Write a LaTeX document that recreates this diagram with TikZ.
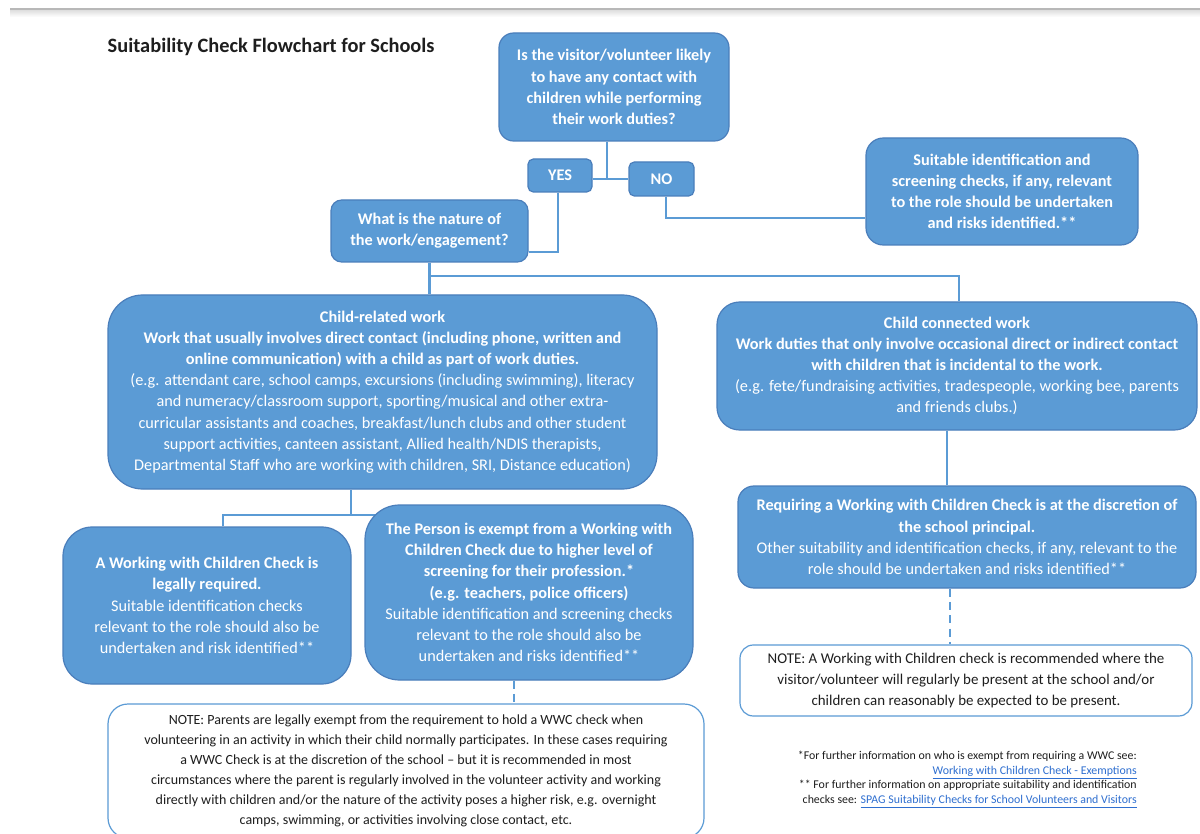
\documentclass[tikz,border=0pt]{standalone}
\usepackage{fontspec}
\setmainfont{Carlito}
\usetikzlibrary{backgrounds}
\definecolor{boxblue}{HTML}{5B9BD5}
\definecolor{boxedge}{HTML}{4A7EBB}
\definecolor{linkblue}{HTML}{2F6FD0}
\definecolor{ink}{HTML}{1E1E1E}
\begin{document}
\begin{tikzpicture}[x=0.75pt,y=-0.75pt,
  sz/.style 2 args={minimum width=#1*0.75pt, minimum height=#2*0.75pt},
  box/.style={draw=boxedge, fill=boxblue, line width=0.9pt, text=white, align=center, inner sep=0pt,
    font=\fontsize{12.2}{15.9}\selectfont},
  note/.style={draw=boxblue, fill=white, line width=0.9pt, text=ink, align=center, inner sep=0pt,
    font=\fontsize{11.2}{15.9}\selectfont},
  conn/.style={draw=boxblue, line width=1.6pt},
  dconn/.style={conn, dash pattern=on 6pt off 4pt}]
\useasboundingbox (0,0) rectangle (1200,834);

\node[anchor=west, text=ink, font=\fontsize{15.3}{18}\selectfont\bfseries] (title) at (103,47) {Suitability Check Flowchart for Schools};

\node[box, sz={230}{108}, rounded corners=11pt] (q1) at (614,87)
  {\textbf{Is the visitor/volunteer likely}\\\textbf{to have any contact with}\\\textbf{children while performing}\\\textbf{their work duties?}};
\node[box, sz={64}{33}, rounded corners=4pt] (yes) at (560,175.5) {\textbf{YES}};
\node[box, sz={65}{34}, rounded corners=4pt] (no) at (661.5,179) {\textbf{NO}};
\node[box, sz={197}{62}, rounded corners=8pt] (what) at (429.5,231)
  {\textbf{What is the nature of}\\\textbf{the work/engagement?}};
\node[box, sz={272}{107}, rounded corners=13pt] (suit) at (1002,191.5)
  {\textbf{Suitable identification and}\\\textbf{screening checks, if any, relevant}\\\textbf{to the role should be undertaken}\\\textbf{and risks identified.**}};
\node[box, sz={549}{194}, rounded corners=26pt] (rel) at (382.5,392)
  {\textbf{Child-related work}\\
   \textbf{Work that usually involves direct contact (including phone, written and}\\
   \textbf{online communication) with a child as part of work duties.}\\
   (e.g. attendant care, school camps, excursions (including swimming), literacy\\
   and numeracy/classroom support, sporting/musical and other extra-\\
   curricular assistants and coaches, breakfast/lunch clubs and other student\\
   support activities, canteen assistant, Allied health/NDIS therapists,\\
   Departmental Staff who are working with children, SRI, Distance education)};
\node[box, sz={480}{128}, rounded corners=17pt] (con) at (957,366)
  {\textbf{Child connected work}\\
   \textbf{Work duties that only involve occasional direct or indirect contact}\\
   \textbf{with children that is incidental to the work.}\\
   (e.g. fete/fundraising activities, tradespeople, working bee, parents\\
   and friends clubs.)};
\node[box, sz={288}{157}, rounded corners=22pt] (wwc) at (207,605.5)
  {\textbf{A Working with Children Check is}\\
   \textbf{legally required.}\\
   Suitable identification checks\\
   relevant to the role should also be\\
   undertaken and risk identified**};
\node[box, sz={328}{175}, rounded corners=26pt] (exm) at (529,592.5)
  {\textbf{The Person is exempt from a Working with}\\
   \textbf{Children Check due to higher level of}\\
   \textbf{screening for their profession.*}\\
   \textbf{(e.g. teachers, police officers)}\\
   Suitable identification and screening checks\\
   relevant to the role should also be\\
   undertaken and risks identified**};
\node[box, sz={458}{102}, rounded corners=12pt] (req) at (967,537)
  {\textbf{Requiring a Working with Children Check is at the discretion of}\\
   \textbf{the school principal.}\\
   Other suitability and identification checks, if any, relevant to the\\
   role should be undertaken and risks identified**};
\node[note, sz={452}{71}, rounded corners=10pt] (note2) at (966,680.5)
  {NOTE: A Working with Children check is recommended where the\\
   visitor/volunteer will regularly be present at the school and/or\\
   children can reasonably be expected to be present.};
\node[note, sz={596}{134}, rounded corners=15pt, font=\fontsize{10.5}{15.1}\selectfont] (note1) at (406,771)
  {NOTE: Parents are legally exempt from the requirement to hold a WWC check when\\
   volunteering in an activity in which their child normally participates. In these cases requiring\\
   a WWC Check is at the discretion of the school – but it is recommended in most\\
   circumstances where the parent is regularly involved in the volunteer activity and working\\
   directly with children and/or the nature of the activity poses a higher risk, e.g. overnight\\
   camps, swimming, or activities involving close contact, etc.};
\node[anchor=north east, align=right, inner sep=0pt, text=ink, font=\fontsize{8.9}{10.9}\selectfont] (foot) at (1137,751)
  {*For further information on who is exempt from requiring a WWC see:\\
   {\color{linkblue}\underline{Working with Children Check - Exemptions}}\\
   ** For further information on appropriate suitability and identification\\
   checks see: {\color{linkblue}\underline{SPAG Suitability Checks for School Volunteers and Visitors}}};

\begin{scope}[on background layer]
\fill[white] (0,0) rectangle (1200,834);
\fill[black!28] (10,8.5) rectangle (1200,10.5);
\shade[top color=black!12, bottom color=white] (10,10.5) rectangle (1200,17);
\draw[conn] ([xshift=-5pt]q1.south) -- ([xshift=-5pt]q1.south |- no.west);
\draw[conn] (yes.east |- no.west) -- (no.west);
\draw[conn] ([xshift=-1.5pt]yes.south) |- ([yshift=-15.5pt]what.east);
\draw[conn] ([xshift=3.5pt]no.south) |- ([yshift=-20pt]suit.west);
\draw[conn] (what.south) -- (what.south |- rel.north);
\draw[conn] ([yshift=-9.75pt]what.south) -| ([xshift=1.5pt]con.north);
\coordinate (j) at ([xshift=-23.6pt,yshift=-18.75pt]rel.south);
\draw[conn] ([xshift=-23.6pt]rel.south) -- (j);
\draw[conn] ([xshift=12pt]wwc.north) |- (j) -- (j -| exm.center);
\draw[dconn] ([xshift=-11.25pt]exm.south) -- ([xshift=-11.25pt]exm.south |- note1.north);
\draw[conn] ([xshift=-7.5pt]con.south) -- ([xshift=-7.5pt]con.south |- req.north);
\draw[dconn] ([xshift=-12.75pt]req.south) -- ([xshift=-12.75pt]req.south |- note2.north);
\end{scope}
\end{tikzpicture}
\end{document}
